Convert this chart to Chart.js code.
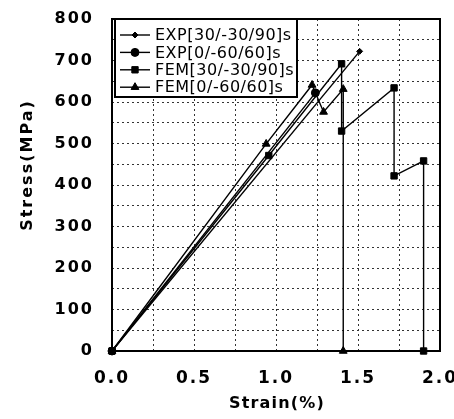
<!DOCTYPE html>
<html>
<head>
<meta charset="utf-8">
<script src="https://cdn.jsdelivr.net/npm/chart.js@4/dist/chart.umd.min.js"></script>
<style>
  html, body { margin: 0; padding: 0; background: #fff; }
  canvas { display: block; }
</style>
</head>
<body>
<canvas id="stressChart" width="454" height="419"></canvas>
<script>
'use strict';

/* ---------- data ---------- */
const seriesLabels = ['EXP[30/-30/90]s', 'EXP[0/-60/60]s', 'FEM[30/-30/90]s', 'FEM[0/-60/60]s'];

const exp3090Strain = [0, 1.51];
const exp3090Stress = [0, 722];

const exp6060Strain = [0, 1.24];
const exp6060Stress = [0, 622];

const fem3090Strain = [0, 0.956, 1.40, 1.40, 1.72, 1.72, 1.90, 1.90];
const fem3090Stress = [0, 471, 692, 530, 634, 422, 458, 0];

const fem6060Strain = [0, 0.94, 1.22, 1.29, 1.41, 1.41];
const fem6060Stress = [0, 499, 641, 576, 631, 0];

const xTickValues = [0, 0.5, 1.0, 1.5, 2.0];
const xTickLabels = ['0.0', '0.5', '1.0', '1.5', '2.0'];
const yTickValues = [0, 100, 200, 300, 400, 500, 600, 700, 800];
const yTickLabels = ['0', '100', '200', '300', '400', '500', '600', '700', '800'];

const xTitle = 'Strain(%)';
const yTitle = 'Stress(MPa)';

/* ---------- helpers ---------- */
const FAMILY = 'DejaVu Sans';

function toPoints(xs, ys) {
  return xs.map((x, i) => ({ x, y: ys[i] }));
}

function tickLabel(values, labels) {
  return v => {
    const i = values.findIndex(t => Math.abs(t - v) < 1e-6);
    return i >= 0 ? labels[i] : '';
  };
}

function series(label, points, pointStyle, radius) {
  return {
    label,
    data: points,
    showLine: true,
    borderColor: '#000',
    backgroundColor: '#000',
    borderWidth: 1.4,
    pointStyle,
    pointRadius: radius,
    pointBorderWidth: 1,
    tension: 0,
    fill: false,
    clip: false,
  };
}

/* ---------- frame, axis titles and boxed legend ---------- */
const decorPlugin = {
  id: 'decor',
  beforeDraw(chart) {
    // the scanned original has wide, spaced-out tick digits
    chart.ctx.letterSpacing = '2px';
  },
  afterDraw(chart) {
    const { ctx, chartArea: a } = chart;
    ctx.save();

    // plot frame
    ctx.strokeStyle = '#000';
    ctx.lineWidth = 2;
    ctx.strokeRect(a.left, a.top, a.right - a.left, a.bottom - a.top);

    // axis titles
    ctx.fillStyle = '#000';
    ctx.font = `bold 16px "${FAMILY}"`;
    ctx.textAlign = 'center';
    ctx.textBaseline = 'middle';

    ctx.letterSpacing = '1.2px';
    ctx.fillText(xTitle, (a.left + a.right) / 2 + 1, 404);

    ctx.letterSpacing = '2px';
    ctx.save();
    ctx.translate(28, 165);
    ctx.rotate(-Math.PI / 2);
    ctx.fillText(yTitle, 0, 0);
    ctx.restore();

    // legend box
    const bx = a.left + 3, by = a.top, bw = 182, bh = 78;
    ctx.fillStyle = '#fff';
    ctx.fillRect(bx, by, bw, bh);
    ctx.strokeStyle = '#000';
    ctx.lineWidth = 2;
    ctx.strokeRect(bx, by, bw, bh);

    ctx.font = `16px "${FAMILY}"`;
    ctx.letterSpacing = '0.5px';
    ctx.textAlign = 'left';
    chart.data.datasets.forEach((ds, i) => {
      const y = by + 16 + i * 17.4;
      ctx.strokeStyle = '#000';
      ctx.fillStyle = '#000';
      ctx.lineWidth = 1.4;
      ctx.beginPath();
      ctx.moveTo(bx + 5, y);
      ctx.lineTo(bx + 35, y);
      ctx.stroke();
      ctx.lineWidth = 1;
      Chart.helpers.drawPoint(ctx, {
        pointStyle: ds.pointStyle, radius: ds.pointRadius, rotation: 0, borderWidth: 1,
      }, bx + 20, y);
      ctx.fillText(ds.label, bx + 40, y + 1);
    });

    ctx.restore();
  },
};

/* ---------- chart ---------- */
const ctx = document.getElementById('stressChart').getContext('2d');

new Chart(ctx, {
  type: 'scatter',
  data: {
    datasets: [
      series(seriesLabels[0], toPoints(exp3090Strain, exp3090Stress), 'rectRot', 3),
      series(seriesLabels[1], toPoints(exp6060Strain, exp6060Stress), 'circle', 4),
      series(seriesLabels[2], toPoints(fem3090Strain, fem3090Stress), 'rect', 4.5),
      series(seriesLabels[3], toPoints(fem6060Strain, fem6060Stress), 'triangle', 4.5),
    ],
  },
  options: {
    responsive: false,
    animation: false,
    devicePixelRatio: 1,
    layout: { padding: { top: 19, right: 14, bottom: 0, left: 0 } },
    plugins: {
      legend: { display: false },
      tooltip: { enabled: false },
    },
    scales: {
      x: {
        type: 'linear',
        min: 0,
        max: 2,
        ticks: {
          stepSize: 0.25,
          autoSkip: false,
          maxRotation: 0,
          padding: 17,
          color: '#000',
          font: { family: FAMILY, size: 17, weight: 'bold' },
          callback: tickLabel(xTickValues, xTickLabels),
        },
        grid: { color: '#333', lineWidth: 1, drawTicks: false },
        border: { display: false, dash: [2, 3] },
        afterFit: s => { s.height = 68; s.paddingLeft = 0; s.paddingRight = 0; },
      },
      y: {
        type: 'linear',
        min: 0,
        max: 800,
        ticks: {
          stepSize: 50,
          autoSkip: false,
          padding: 18,
          color: '#000',
          font: { family: FAMILY, size: 16, weight: 'bold' },
          callback: tickLabel(yTickValues, yTickLabels),
        },
        grid: { color: '#333', lineWidth: 1, drawTicks: false },
        border: { display: false, dash: [2, 3] },
        afterFit: s => { s.width = 112; s.paddingTop = 0; s.paddingBottom = 0; },
      },
    },
  },
  plugins: [decorPlugin],
});
</script>
</body>
</html>
